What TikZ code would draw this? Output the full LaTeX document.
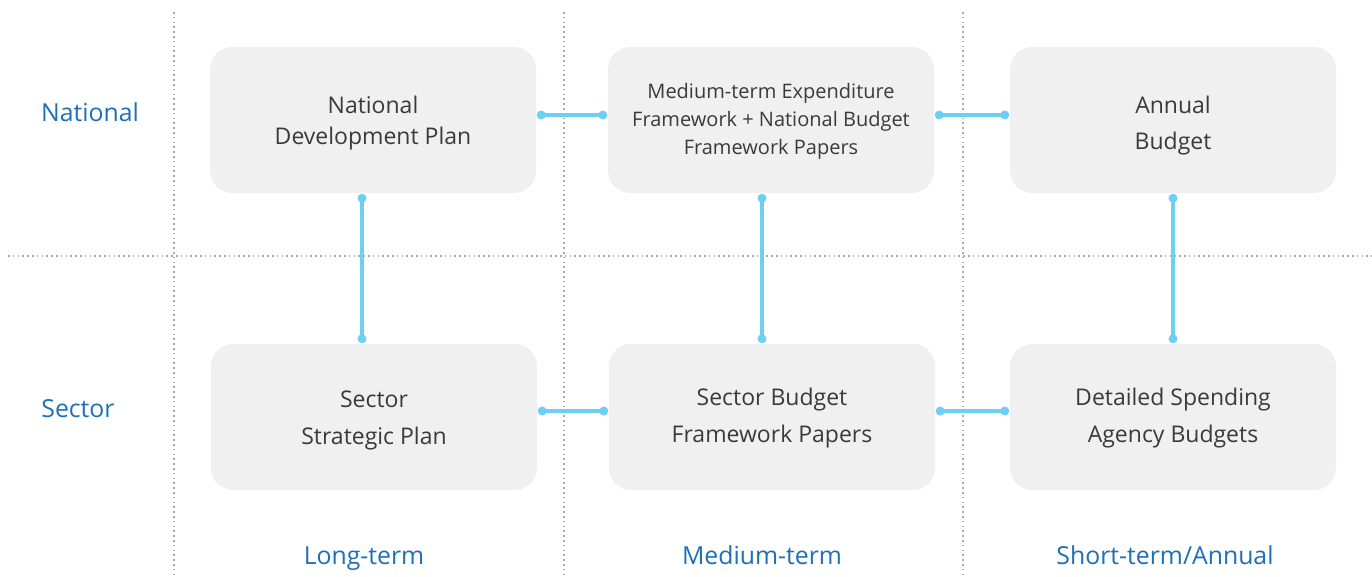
\documentclass[tikz,border=0pt]{standalone}
\usepackage{fontspec}
\setmainfont{Open Sans}
\definecolor{boxfill}{HTML}{F0F0F0}
\definecolor{conn}{HTML}{6DCFF6}
\definecolor{lab}{HTML}{1D6FB8}
\definecolor{txt}{HTML}{3A3A3A}
\definecolor{grid}{HTML}{A8A8A8}
\begin{document}
\begin{tikzpicture}[x=1pt,y=-1pt,
  boxnode/.style={fill=boxfill,rounded corners=22pt,minimum width=326pt,minimum height=146pt,inner sep=0pt},
  boxtext/.style={align=center,text=txt,inner sep=0pt,font=\fontsize{23}{#1}\selectfont},
  smalltext/.style={align=center,text=txt,inner sep=0pt,font=\fontsize{20}{28}\selectfont},
  rowlab/.style={text=lab,anchor=base,inner sep=0pt,font=\fontsize{24.8}{28}\selectfont},
  gridline/.style={grid,line width=1.6pt,dash pattern=on 1.6pt off 3.2pt},
  link/.style={conn,line width=3.5pt,shorten <=5pt,shorten >=5pt},
  dot/.style={circle,fill=conn,inner sep=0pt,minimum size=9pt}]
\useasboundingbox (0,0) rectangle (1372,577);
% grid
\draw[gridline] (174,12) -- (174,577);
\draw[gridline] (564,12) -- (564,577);
\draw[gridline] (963,12) -- (963,577);
\draw[gridline] (8,256) -- (1372,256);
% boxes
\node[boxnode] (ndp) at (373,120) {};
\node[boxnode] (mtef) at (771,120) {};
\node[boxnode] (ab) at (1173,120) {};
\node[boxnode] (ssp) at (374,417) {};
\node[boxnode] (sbfp) at (772,417) {};
\node[boxnode] (dsab) at (1173,417) {};
% box texts
\node[boxtext=31] (ndpt) at (373,123) {National\\Development Plan};
\node[smalltext] (mteft) at (771,121) {Medium-term Expenditure\\Framework + National Budget\\Framework Papers};
\node[boxtext=36] (abt) at (1173,125.5) {Annual\\Budget};
\node[boxtext=37] (sspt) at (374,420) {Sector\\Strategic Plan};
\node[boxtext=37] (sbfpt) at (772,418) {Sector Budget\\Framework Papers};
\node[boxtext=37] (dsabt) at (1173,418) {Detailed Spending\\Agency Budgets};
% labels
\node[rowlab] (lnat) at (90,122) {National};
\node[rowlab] (lsec) at (78,417) {Sector};
\node[rowlab] (llong) at (364,564) {Long-term};
\node[rowlab] (lmed) at (762,564) {Medium-term};
\node[rowlab] (lshort) at (1165,564) {Short-term/Annual};
% connector end points
\coordinate (a1) at (ndp.east |- 0,115);
\coordinate (a2) at (mtef.west |- 0,115);
\coordinate (b1) at (mtef.east |- 0,115);
\coordinate (b2) at (ab.west |- 0,115);
\coordinate (c1) at (ssp.east |- 0,411);
\coordinate (c2) at (sbfp.west |- 0,411);
\coordinate (d1) at (sbfp.east |- 0,411);
\coordinate (d2) at (dsab.west |- 0,411);
\coordinate (e1) at (362,0 |- ndp.south);
\coordinate (e2) at (362,0 |- ssp.north);
\coordinate (f1) at (762,0 |- mtef.south);
\coordinate (f2) at (762,0 |- sbfp.north);
\coordinate (g1) at (1173,0 |- ab.south);
\coordinate (g2) at (1173,0 |- dsab.north);
\foreach \p/\q/\dx/\dy in {a1/a2/5/0,b1/b2/5/0,c1/c2/5/0,d1/d2/5/0,e1/e2/0/5,f1/f2/0/5,g1/g2/0/5}{
  \draw[link] (\p) -- (\q);
  \node[dot] at ([shift={(\dx,\dy)}]\p) {};
  \node[dot] at ([shift={(-\dx,-\dy)}]\q) {};
}
\end{tikzpicture}
\end{document}
